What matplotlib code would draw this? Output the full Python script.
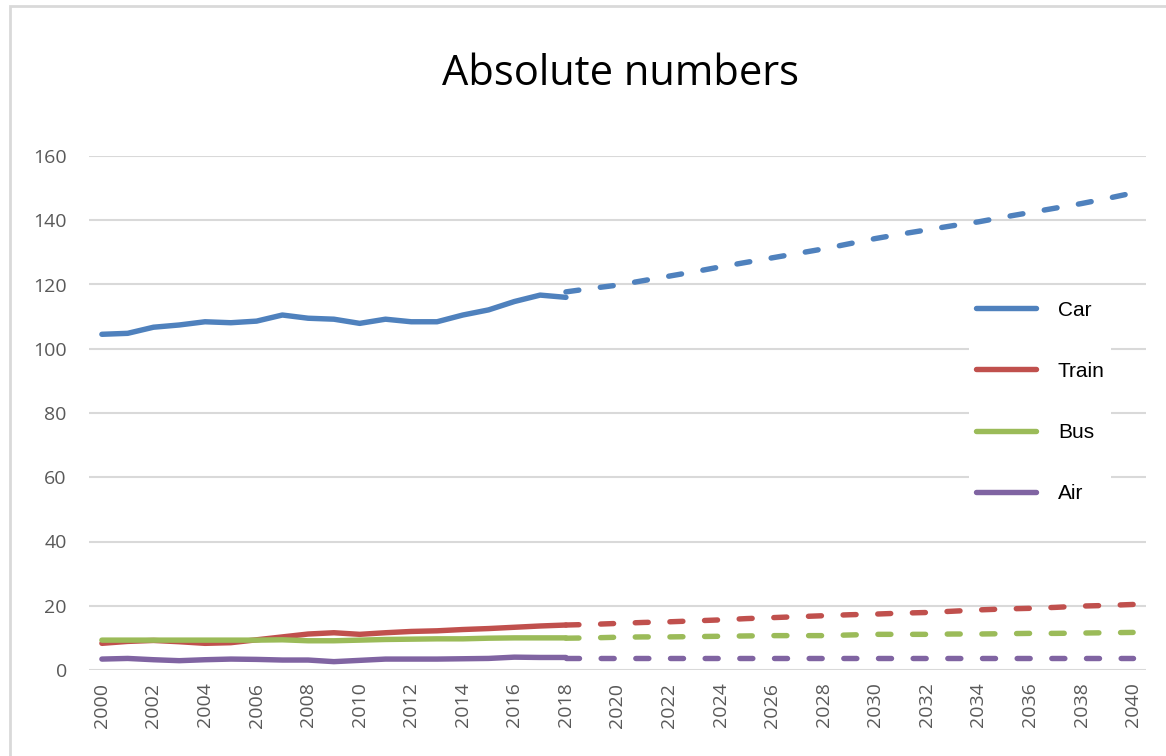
import matplotlib
matplotlib.use("Agg")
import matplotlib.pyplot as plt
from matplotlib.patches import Rectangle

# observed years and values
years_hist = list(range(2000, 2019))
car_hist = [104.5, 104.8, 106.7, 107.4, 108.4, 108.1, 108.6, 110.5, 109.5, 109.2,
            107.9, 109.2, 108.4, 108.4, 110.5, 112.1, 114.7, 116.7, 116.0]
train_hist = [8.3, 8.9, 9.2, 8.8, 8.3, 8.5, 9.4, 10.3, 11.2, 11.6,
              11.1, 11.6, 12.0, 12.2, 12.6, 12.9, 13.3, 13.7, 14.0]
bus_hist = [9.3, 9.3, 9.3, 9.3, 9.3, 9.3, 9.3, 9.4, 9.1, 9.1,
            9.3, 9.5, 9.6, 9.7, 9.7, 9.9, 10.0, 10.0, 10.0]
air_hist = [3.4, 3.6, 3.2, 2.9, 3.2, 3.4, 3.3, 3.1, 3.1, 2.6,
            3.0, 3.4, 3.4, 3.4, 3.5, 3.6, 4.0, 3.9, 3.9]

# forecast years and values
years_fc = list(range(2018, 2041))
car_fc = [117.7, 118.8, 119.8, 121.2, 122.6, 124.0, 125.5, 126.9, 128.3, 129.7,
          131.1, 132.7, 134.3, 135.7, 137.0, 138.3, 139.5, 141.0, 142.4, 143.8,
          145.2, 146.8, 148.5]
train_fc = [14.0, 14.2, 14.5, 14.8, 15.0, 15.3, 15.6, 16.0, 16.3, 16.6,
            16.9, 17.2, 17.4, 17.7, 17.9, 18.3, 18.7, 19.0, 19.2, 19.5,
            19.9, 20.1, 20.4]
bus_fc = [9.9, 10.0, 10.2, 10.3, 10.3, 10.4, 10.5, 10.6, 10.7, 10.7,
          10.7, 10.9, 11.1, 11.1, 11.1, 11.2, 11.2, 11.3, 11.4, 11.4,
          11.5, 11.6, 11.7]
air_fc = [3.7] * 23

modes = ["Car", "Train", "Bus", "Air"]
colors = ["#4f81bd", "#c0504d", "#9bbb59", "#8064a2"]
hist = [car_hist, train_hist, bus_hist, air_hist]
fc = [car_fc, train_fc, bus_fc, air_fc]

fig = plt.figure(figsize=(11.66, 7.56), dpi=100)
W, H = 1166, 756
ax = fig.add_axes([89 / W, 1 - 670 / H, (1146 - 89) / W, (670 - 156) / H])

# chart border
fig.patches.append(Rectangle((10 / W, -0.1), 1.2, 1 - 6 / H + 0.1, transform=fig.transFigure,
                             fill=False, edgecolor="#d9d9d9", linewidth=2))

lw = 3.9
for name, c, h, f in zip(modes, colors, hist, fc):
    ax.plot(years_hist, h, color=c, lw=lw, solid_capstyle="round", solid_joinstyle="round", label=name)
    ax.plot(years_fc, f, color=c, lw=lw, dashes=(2.4, 4.0), dash_capstyle="round")

ax.set_xlim(1999.5, 2040.5)
ax.set_ylim(0, 160)
ax.set_yticks(range(0, 161, 20))
ax.set_xticks(range(2000, 2041, 2))
ax.tick_params(length=0, labelsize=14, labelcolor="#595959")
ax.tick_params(axis="x", pad=9)
ax.tick_params(axis="y", pad=16)
for lab in ax.get_xticklabels():
    lab.set_rotation(90)
for lab in ax.get_xticklabels() + ax.get_yticklabels():
    lab.set_family("Open Sans")
ax.grid(axis="y", color="#d9d9d9", lw=1.5)
ax.set_axisbelow(True)
for s in ax.spines.values():
    s.set_visible(False)

fig.text(621 / W, 1 - 74 / H, "Absolute numbers", ha="center", va="center",
         fontsize=30, family="Open Sans", color="black")

leg = ax.legend(loc="upper left", bbox_to_anchor=(870 / 1057, 1 - (284 - 156) / 514),
                frameon=True, facecolor="white", edgecolor="none", framealpha=1,
                handlelength=2.9, handletextpad=1.05, labelspacing=2.02, borderpad=0.3,
                prop={"family": "Liberation Sans", "size": 15})
for line in leg.get_lines():
    line.set_linewidth(lw)

fig.savefig("out.png", dpi=100)
